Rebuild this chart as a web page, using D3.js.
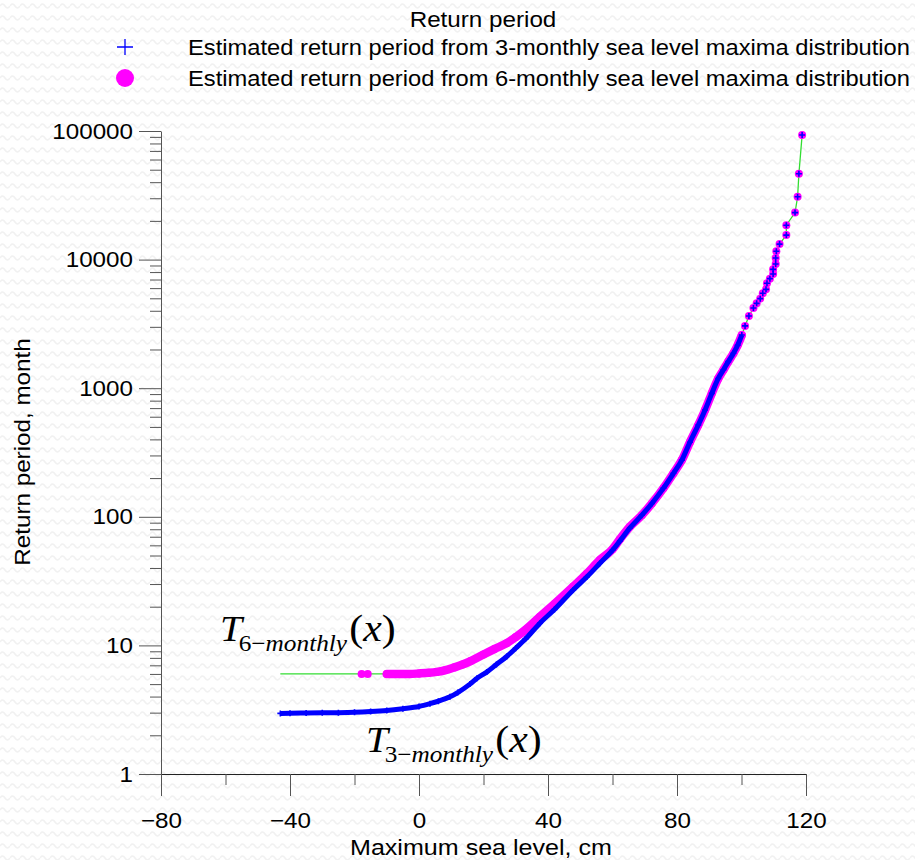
<!DOCTYPE html>
<html>
<head>
<meta charset="utf-8">
<script src="https://cdn.jsdelivr.net/npm/d3@7"></script>
<style>
  html, body { margin: 0; padding: 0; background: #fff; }
  svg { display: block; }
</style>
</head>
<body>
<svg id="chart" width="915" height="860"></svg>
<script>
// ---------- data ----------
const legendTitle = "Return period";
const seriesNames = [
  "Estimated return period from 3-monthly sea level maxima distribution",
  "Estimated return period from 6-monthly sea level maxima distribution"
];
const xTickLabels = [-80, -40, 0, 40, 80, 120];
const xMinorTicks = [-60, -20, 20, 60, 100];
const yTickLabels = [1, 10, 100, 1000, 10000, 100000];
const xTitle = "Maximum sea level, cm";
const yTitle = "Return period, month";

// 3-monthly series: sea level (cm) and return period (month)
const threeMonthlyX = [-43, -40, -35, -30, -25, -20, -15, -10, -5, 0, 3.4, 6, 9.6, 12, 15.8, 18, 21, 24, 27.2, 30, 33, 37.5, 42, 47.8, 52, 56.1, 60, 62.3, 65.4, 69.1, 72.2, 75.8, 78.9, 81.5, 84.0, 86.6, 88.7, 90.8, 92.8, 94.4, 95.9, 97.5, 98.8, 100.1, 101.1, 102.3, 103.7, 104.7, 105.8, 106.6, 107.6, 107.9, 108.8, 109.8, 109.8, 110.6, 110.6, 110.8, 111.8, 113.9, 113.9, 116.6, 117.4, 117.8, 118.8];
const threeMonthlyT = [2.96, 2.97, 2.98, 2.99, 3.0, 3.02, 3.06, 3.12, 3.22, 3.35, 3.52, 3.68, 3.98, 4.3, 5.0, 5.55, 6.2, 7.1, 8.2, 9.5, 11.2, 14.9, 19, 27, 34, 43.5, 55, 65, 82, 103, 127, 167, 218, 276, 380, 517, 676, 912, 1190, 1390, 1610, 1870, 2160, 2590, 3050, 3640, 4200, 4570, 4970, 5470, 5870, 6540, 7110, 7720, 8400, 9240, 10300, 11600, 13200, 15500, 18500, 23200, 30800, 46500, 93000];

// 6-monthly series
const sixMonthlyX = [-17.8, -15.9, -10, -5, -2.8, 0, 3, 5.5, 8, 11, 13.5, 16, 20, 23.5, 27.2, 30, 33, 37.5, 42, 47.8, 52, 56.1, 60, 62.3, 65.4, 69.1, 72.2, 75.8, 78.9, 81.5, 84.0, 86.6, 88.7, 90.8, 92.8, 94.4, 95.9, 97.5, 98.8, 100.1, 101.1, 102.3, 103.7, 104.7, 105.8, 106.6, 107.6, 107.9, 108.8, 109.8, 109.8, 110.6, 110.6, 110.8, 111.8, 113.9, 113.9, 116.6, 117.4, 117.8, 118.8];
const sixMonthlyT = [6.0, 6.0, 6.0, 6.0, 6.0, 6.05, 6.12, 6.22, 6.4, 6.75, 7.1, 7.55, 8.5, 9.4, 10.4, 11.6, 13.2, 16.7, 21, 28.6, 36, 46.2, 56, 67, 83.8, 103, 127, 167, 218, 276, 380, 517, 676, 912, 1190, 1390, 1610, 1870, 2160, 2590, 3050, 3640, 4200, 4570, 4970, 5470, 5870, 6540, 7110, 7720, 8400, 9240, 10300, 11600, 13200, 15500, 18500, 23200, 30800, 46500, 93000];
// start of the connecting line of the 6-monthly series
const sixMonthlyLineStartX = -43;
const sixMonthlyLineStartT = 6.0;
const denseLimitX = 101; // markers overlap into a solid band below this level

// ---------- drawing ----------
const svg = d3.select("#chart");
const SANS = '"Liberation Sans", Arial, sans-serif';
const SERIF = '"Liberation Serif", "Times New Roman", serif';
const fontSize = 22;
const stretch = 1.1;

// widen text horizontally (keeps anchor) to match the reference glyph widths
function widen(sel, k, target) {
  sel.each(function () {
    const len = this.getComputedTextLength();
    const L = target || len * (k || stretch);
    d3.select(this).attr("textLength", L).attr("lengthAdjust", "spacingAndGlyphs");
  });
}

// subtle wavy background
const defs = svg.append("defs");
const pat = defs.append("pattern").attr("id", "wave").attr("patternUnits", "userSpaceOnUse")
  .attr("width", 10).attr("height", 12);
pat.append("path").attr("d", "M0,6 Q2.5,2 5,6 T10,6").attr("fill", "none")
  .attr("stroke", "#f1f1f1").attr("stroke-width", 1.6);
svg.append("rect").attr("width", 915).attr("height", 860).attr("fill", "#fff");
svg.append("rect").attr("width", 915).attr("height", 860).attr("fill", "url(#wave)");

const x = d3.scaleLinear().domain([-80, 120]).range([161, 806]);
const y = d3.scaleLog().domain([1, 100000]).range([774, 131]);

const axisColor = "#555";

// X axis
const gx = svg.append("g").attr("transform", "translate(0,774)");
gx.call(d3.axisBottom(x).tickValues(xTickLabels).tickSize(22).tickSizeOuter(0).tickPadding(16)
  .tickFormat(d3.format("d")));
gx.append("g").call(d3.axisBottom(x).tickValues(xMinorTicks).tickSize(11).tickFormat(""))
  .select(".domain").remove();
gx.selectAll("line").attr("stroke", axisColor);
gx.selectAll(".domain").attr("stroke", "#222");
gx.selectAll("text").attr("font-size", fontSize).attr("fill", "#000").style("font-family", SANS);
widen(gx.selectAll("text"));

// Y axis
const yMinor = [];
for (let e = 0; e < 5; e++) for (let m = 2; m <= 9; m++) yMinor.push(m * Math.pow(10, e));
const gy = svg.append("g").attr("transform", "translate(161,0)");
gy.call(d3.axisLeft(y).tickValues(yTickLabels).tickSize(22).tickSizeOuter(0).tickPadding(6)
  .tickFormat(d3.format("d")));
gy.append("g").call(d3.axisLeft(y).tickValues(yMinor).tickSize(11).tickFormat(""))
  .select(".domain").remove();
gy.selectAll("line").attr("stroke", axisColor);
gy.selectAll(".domain").attr("stroke", axisColor);
gy.selectAll("text").attr("font-size", fontSize).attr("fill", "#000").style("font-family", SANS);
widen(gy.selectAll("text"));

// Axis titles
const xt = svg.append("text").attr("x", 481).attr("y", 855).attr("text-anchor", "middle")
  .attr("font-size", fontSize).style("font-family", SANS).text(xTitle);
widen(xt, 1.14);
const yt = svg.append("text").attr("transform", "translate(30,452) rotate(-90)").attr("text-anchor", "middle")
  .attr("font-size", fontSize).style("font-family", SANS).text(yTitle);
widen(yt, 1.1);

// series data
const three = threeMonthlyX.map((v, i) => ({x: v, t: threeMonthlyT[i]}));
const six = sixMonthlyX.map((v, i) => ({x: v, t: sixMonthlyT[i]}));
const line = d3.line().x(d => x(d.x)).y(d => y(d.t));
const smooth = d3.line().x(d => x(d.x)).y(d => y(d.t)).curve(d3.curveMonotoneX);

// green connecting line for 6-monthly
svg.append("path").datum([{x: sixMonthlyLineStartX, t: sixMonthlyLineStartT}].concat(six))
  .attr("d", line).attr("fill", "none").attr("stroke", "#33dd33").attr("stroke-width", 1.3);

// 6-monthly dense band + markers
svg.append("path").datum(six.filter(d => d.x >= -10 && d.x <= denseLimitX))
  .attr("d", smooth).attr("fill", "none").attr("stroke", "#ff00ff").attr("stroke-width", 8.5)
  .attr("stroke-linecap", "round").attr("stroke-linejoin", "round");
svg.append("g").selectAll("circle").data(six).join("circle")
  .attr("cx", d => x(d.x)).attr("cy", d => y(d.t)).attr("r", 4).attr("fill", "#ff00ff");

// 3-monthly dense band + markers
svg.append("path").datum(three.filter(d => d.x <= denseLimitX))
  .attr("d", smooth).attr("fill", "none").attr("stroke", "#0000ff").attr("stroke-width", 5)
  .attr("stroke-linejoin", "round");
svg.append("g").selectAll("path.plus").data(three).join("path").attr("class", "plus")
  .attr("d", d => { const cx = x(d.x), cy = y(d.t), s = 3; return `M${cx - s},${cy}H${cx + s}M${cx},${cy - s}V${cy + s}`; })
  .attr("stroke", "#0000ff").attr("stroke-width", 1.6).attr("fill", "none");

// Legend
const lt = svg.append("text").attr("x", 483).attr("y", 27).attr("text-anchor", "middle")
  .attr("font-size", fontSize).style("font-family", SANS).text(legendTitle);
widen(lt, 1.1);
svg.append("path").attr("d", "M117,47H133M125,39V55").attr("stroke", "#0000ff").attr("stroke-width", 1.3);
svg.append("circle").attr("cx", 125).attr("cy", 78).attr("r", 9).attr("fill", "#ff00ff");
const l1 = svg.append("text").attr("x", 188).attr("y", 55).attr("font-size", fontSize)
  .style("font-family", SANS).text(seriesNames[0]);
widen(l1, 1, 722);
const l2 = svg.append("text").attr("x", 188).attr("y", 86).attr("font-size", fontSize)
  .style("font-family", SANS).text(seriesNames[1]);
widen(l2, 1, 722);

// Formula annotations
function annot(xPos, yPos, sub) {
  const g = svg.append("g").attr("transform", `translate(${xPos},${yPos}) scale(1.1,1)`)
    .append("text").attr("x", 0).attr("y", 0)
    .style("font-family", SERIF).attr("font-size", 36);
  g.append("tspan").attr("font-style", "italic").text("T");
  const s = g.append("tspan").attr("font-size", 23).attr("dy", 10).attr("dx", -3);
  s.append("tspan").text(sub.slice(0, 2));
  s.append("tspan").attr("font-style", "italic").text(sub.slice(2));
  g.append("tspan").attr("dy", -10).attr("dx", 2).attr("font-size", 38).text("(");
  g.append("tspan").attr("font-style", "italic").attr("font-size", 38).text("x");
  g.append("tspan").attr("font-size", 38).text(")");
}
annot(220, 641, "6\u2212monthly");
annot(366, 752, "3\u2212monthly");
</script>
</body>
</html>
